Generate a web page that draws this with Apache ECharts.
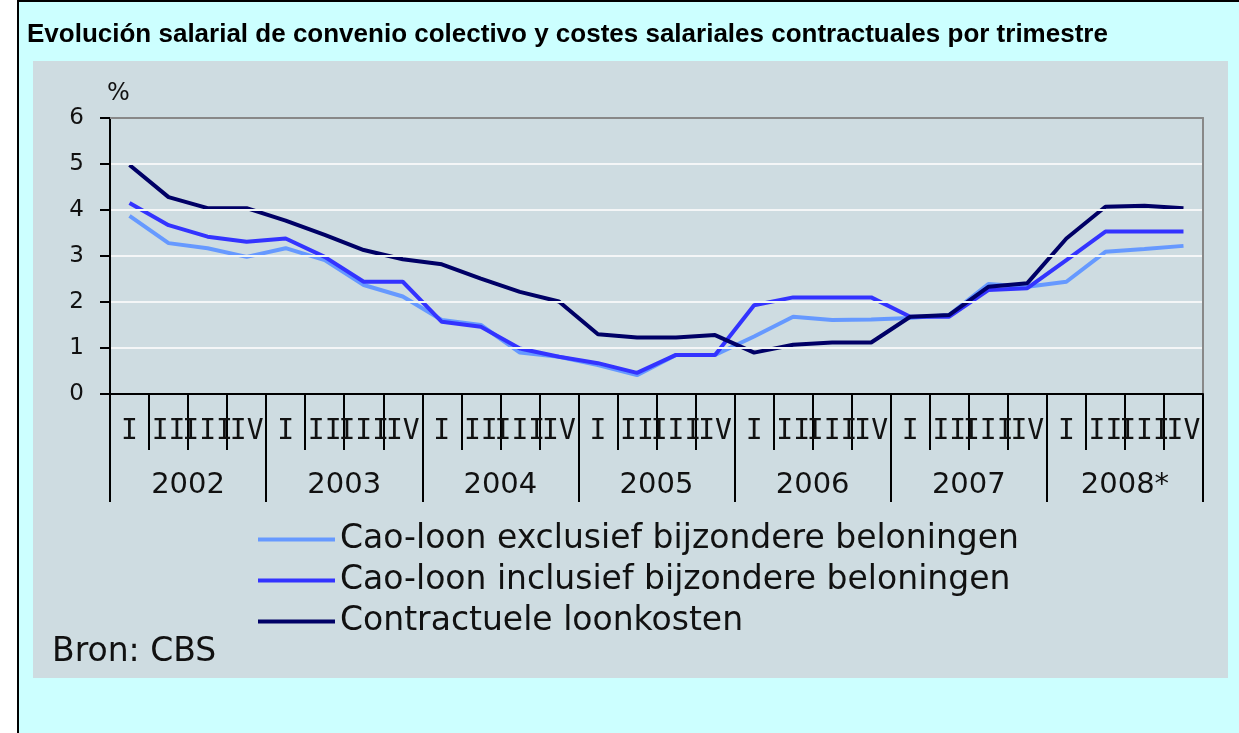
<!DOCTYPE html>
<html>
<head>
<meta charset="utf-8">
<script src="https://cdn.jsdelivr.net/npm/echarts@6/dist/echarts.min.js"></script>
<style>
  html, body { margin: 0; padding: 0; background: #ffffff; }
  #frame {
    position: absolute; left: 17px; top: 0; width: 1240px; height: 731px;
    background: #ccffff; border-left: 2px solid #000; border-top: 2px solid #000;
  }
  #panel {
    position: absolute; left: 33px; top: 61px; width: 1195px; height: 617px;
    background: #cedce1;
  }
  #chart { position: absolute; left: 0; top: 0; width: 1239px; height: 733px; }
</style>
</head>
<body>
<div id="frame"></div>
<div id="panel"></div>
<div id="chart"></div>
<script>
  // jaren en kwartalen
  let years = ['2002', '2003', '2004', '2005', '2006', '2007', '2008*']
  let quarterNames = ['I', 'II', 'III', 'IV']
  let quarters = []
  for (let y = 0; y < years.length; y++) {
    for (let q = 0; q < quarterNames.length; q++) {
      quarters.push(quarterNames[q])
    }
  }

  let seriesNames = [
    'Cao-loon exclusief bijzondere beloningen',
    'Cao-loon inclusief bijzondere beloningen',
    'Contractuele loonkosten',
  ]
  let colors = ['#6699ff', '#3333ff', '#000066']

  // waarden per kwartaal, 2002 I t/m 2008 IV
  let caoExcl = [
    3.87, 3.28, 3.17, 2.98, 3.17, 2.91, 2.37, 2.12,
    1.61, 1.50, 0.90, 0.81, 0.63, 0.41, 0.85, 0.85,
    1.25, 1.68, 1.61, 1.62, 1.65, 1.72, 2.39, 2.33,
    2.44, 3.09, 3.15, 3.22,
  ]
  let caoIncl = [
    4.15, 3.67, 3.42, 3.31, 3.38, 2.98, 2.44, 2.44,
    1.57, 1.46, 0.99, 0.81, 0.67, 0.46, 0.85, 0.85,
    1.93, 2.10, 2.10, 2.10, 1.68, 1.68, 2.26, 2.30,
    2.91, 3.53, 3.53, 3.53,
  ]
  let loonkosten = [
    4.98, 4.28, 4.04, 4.04, 3.77, 3.46, 3.13, 2.93,
    2.82, 2.51, 2.22, 2.01, 1.30, 1.23, 1.23, 1.28,
    0.90, 1.07, 1.12, 1.12, 1.68, 1.72, 2.33, 2.41,
    3.38, 4.07, 4.09, 4.04,
  ]
  let values = [caoExcl, caoIncl, loonkosten]

  let series = []
  for (let i = 0; i < values.length; i++) {
    series.push({
      name: seriesNames[i],
      type: 'line',
      xAxisIndex: 0,
      yAxisIndex: 0,
      data: values[i],
      symbol: 'none',
      lineStyle: { color: colors[i], width: 4 },
      itemStyle: { color: colors[i] },
      z: 3 + i,
    })
  }

  let myChart = echarts.init(document.getElementById('chart'))
  myChart.setOption({
    animation: false,
    backgroundColor: 'transparent',
    color: colors,
    title: [
      {
        text: 'Evolución salarial de convenio colectivo y costes salariales contractuales por trimestre',
        left: 27,
        top: 22,
        padding: 0,
        textStyle: { fontFamily: 'Liberation Sans', fontWeight: 'bold', fontSize: 26, color: '#000' },
      },
      {
        text: 'Bron: CBS',
        left: 52,
        top: 636,
        padding: 0,
        textStyle: { fontFamily: 'DejaVu Sans', fontWeight: 'normal', fontSize: 33, color: '#111' },
      },
    ],
    legend: {
      orient: 'vertical',
      left: 258,
      top: 523,
      padding: 0,
      icon: 'rect',
      itemWidth: 77,
      itemHeight: 4,
      itemGap: 8,
      textStyle: { fontFamily: 'DejaVu Sans', fontSize: 33, color: '#111', lineHeight: 32 },
      data: seriesNames,
    },
    grid: { left: 110, right: 36, top: 118, bottom: 339 },
    xAxis: [
      {
        type: 'category',
        position: 'bottom',
        data: quarters,
        boundaryGap: true,
        axisLine: { show: true, lineStyle: { color: '#000', width: 2 } },
        axisTick: { show: true, interval: 0, length: 56, lineStyle: { color: '#000', width: 2 } },
        axisLabel: {
          interval: 0,
          margin: 38,
          verticalAlign: 'middle',
          fontFamily: 'DejaVu Sans Mono',
          fontSize: 28,
          color: '#111',
        },
        splitLine: { show: false },
        z: 6,
      },
      {
        type: 'category',
        position: 'bottom',
        data: years,
        boundaryGap: true,
        axisLine: { show: false },
        axisTick: { show: true, interval: 0, length: 108, lineStyle: { color: '#000', width: 2 } },
        axisLabel: {
          interval: 0,
          margin: 91,
          verticalAlign: 'middle',
          fontFamily: 'DejaVu Sans',
          fontSize: 29,
          color: '#111',
        },
        splitLine: { show: false },
      },
      {
        type: 'category',
        position: 'top',
        data: years,
        axisLine: { show: true, lineStyle: { color: '#888', width: 2 } },
        axisTick: { show: false },
        axisLabel: { show: false },
        z: 6,
      },
    ],
    yAxis: [
      {
        type: 'value',
        min: 0,
        max: 6,
        interval: 1,
        name: '%',
        nameLocation: 'end',
        nameGap: 12,
        nameTextStyle: { fontFamily: 'DejaVu Sans', fontSize: 24, color: '#111', align: 'left', padding: [0, 0, 0, -3] },
        axisLine: { show: true, lineStyle: { color: '#000', width: 2 } },
        axisTick: { show: true, length: 10, lineStyle: { color: '#000', width: 2 } },
        axisLabel: { margin: 26, fontFamily: 'DejaVu Sans', fontSize: 23, color: '#111' },
        splitLine: { show: true, lineStyle: { color: '#f4f6f7', width: 2 } },
        z: 6,
      },
      {
        type: 'value',
        position: 'right',
        min: 0,
        max: 6,
        interval: 1,
        axisLine: { show: true, lineStyle: { color: '#888', width: 2 } },
        axisTick: { show: false },
        axisLabel: { show: false },
        splitLine: { show: false },
        z: 6,
      },
    ],
    series: series,
  })
</script>
</body>
</html>
